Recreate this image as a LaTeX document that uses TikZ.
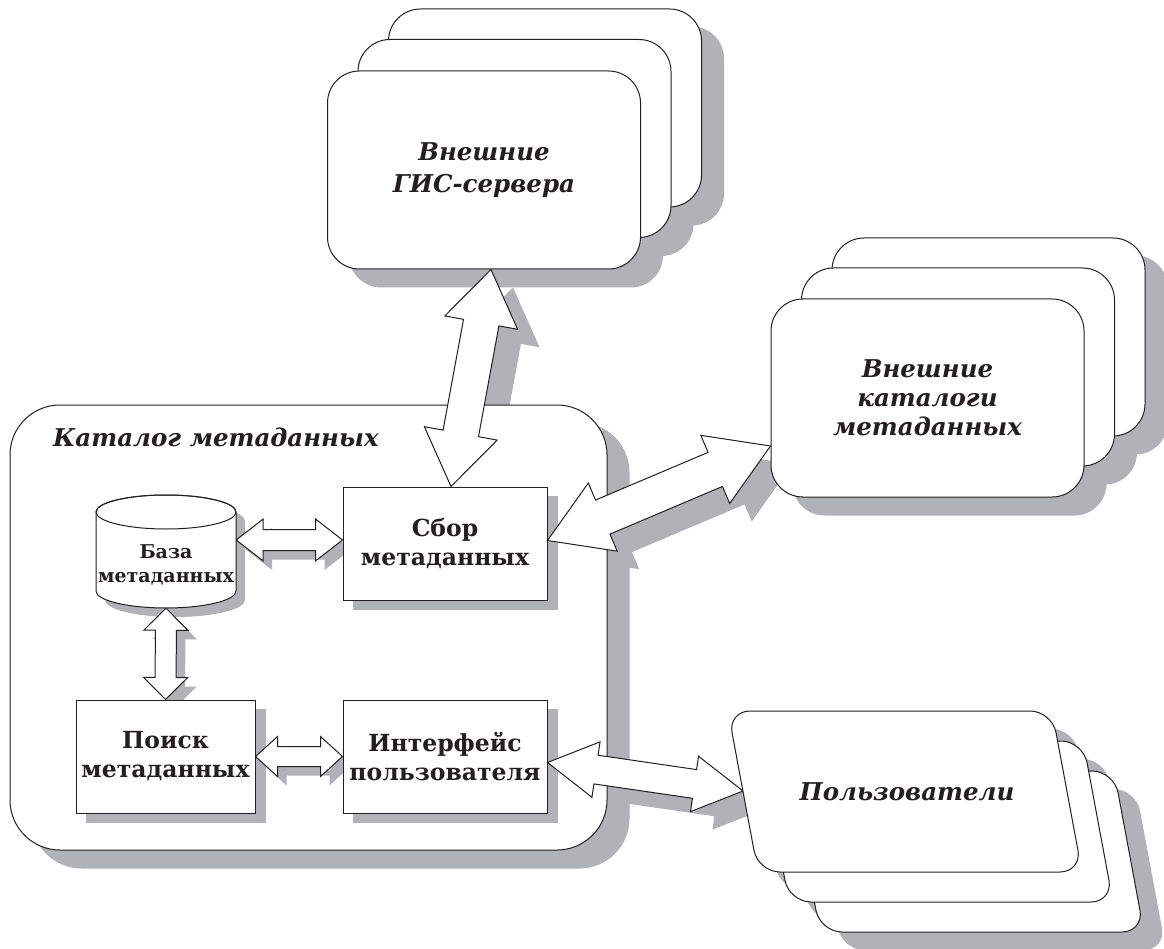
\documentclass[tikz,border=0pt]{standalone}
\usepackage{fontspec}
\setmainfont{DejaVu Serif}
\usetikzlibrary{calc}
\definecolor{shd}{RGB}{177,178,182}
\definecolor{ink}{RGB}{35,31,32}
\pgfdeclarelayer{shadowA}
\pgfdeclarelayer{catlayer}
\pgfdeclarelayer{shadowB}
\pgfdeclarelayer{toplayer}
\pgfsetlayers{shadowA,catlayer,shadowB,main,toplayer}
\newcommand{\itfnt}{\fontsize{24.5}{32}\selectfont\bfseries\itshape}
\newcommand{\itfntb}{\fontsize{24.5}{29}\selectfont\bfseries\itshape}
\newcommand{\bffnt}{\fontsize{23.5}{29}\selectfont\bfseries}
\newcommand{\smfnt}{\fontsize{19}{24}\selectfont\bfseries}
\newcommand{\blockarrow}[6][]{%
  \coordinate (ba1) at ($(#2)!#4!(#3)$);
  \coordinate (ba2) at ($(#3)!#4!(#2)$);
  \path[#1] (#2) -- ($(ba1)!#5!90:(#3)$) -- ($(ba1)!#6!90:(#3)$) -- ($(ba2)!#6!-90:(#2)$) -- ($(ba2)!#5!-90:(#2)$) -- (#3) -- ($(ba2)!#5!90:(#2)$) -- ($(ba2)!#6!90:(#2)$) -- ($(ba1)!#6!-90:(#3)$) -- ($(ba1)!#5!-90:(#3)$) -- cycle;}
\newcommand{\boxshadow}[4]{\fill[shd, rounded corners=#2] ($(#1.south west)+(#3,#4)$) rectangle ($(#1.north east)+(#3,#4)$);}
\newcommand{\userpath}{(728,711) -- (1052,711) -- (1082,872) -- (758,872) -- cycle}
\newcommand{\cylpath}{(96,512) -- (96,591) arc[start angle=180, end angle=360, x radius=70pt, y radius=17pt] -- (236,512) arc[start angle=0, end angle=180, x radius=70pt, y radius=17pt] -- cycle}
\begin{document}
\begin{tikzpicture}[x=1pt,y=-1pt,
  stackbox/.style={draw=ink, fill=white, line width=1pt, rounded corners=32pt, minimum width=313pt, minimum height=198pt, inner sep=0pt, align=center, font=\itfnt, text=ink},
  ibox/.style={draw=ink, fill=white, line width=1pt, minimum height=113pt, inner sep=0pt, align=center, font=\bffnt, text=ink},
  arr/.style={draw=ink, fill=white, line width=1pt, line join=miter},
  bigshad/.style={fill=shd, draw=none, transform canvas={shift={(22pt,-18pt)}}},
  smallshad/.style={fill=shd, draw=none, transform canvas={shift={(9pt,-9pt)}}},
  userbox/.style={draw=ink, fill=white, line width=1pt, rounded corners=22pt}]
\useasboundingbox (0,0) rectangle (1164,949);
% ---------- external stacks (top layer)
\begin{pgfonlayer}{toplayer}
\node[stackbox] (gis3) at (545,108) {};
\node[stackbox] (gis2) at (514.5,138.5) {};
\node[stackbox] (gis) at (484,170) {Внешние\\ГИС-сервера};
\node[stackbox] (cat3) at (988.5,337) {};
\node[stackbox] (cat2) at (958,367) {};
\node[stackbox, font=\itfntb] (cat) at (927.5,398) {Внешние\\каталоги\\метаданных};
\foreach \ox/\oy in {62/60,31/30,0/0}
  \draw[userbox, shift={(\ox,\oy)}] \userpath;
\node[font=\itfnt, text=ink] (usrtext) at (907,792) {Пользователи};
\coordinate (usr) at (743,791);
\end{pgfonlayer}
% ---------- catalog container
\begin{pgfonlayer}{catlayer}
\node[draw=ink, fill=white, line width=1pt, rounded corners=50pt, minimum width=597pt, minimum height=445pt, inner sep=0pt] (catalog) at (308.5,627.5) {};
\node[font=\itfnt, text=ink, anchor=west, inner sep=0pt] (catlabel) at (53,437) {Каталог метаданных};
\end{pgfonlayer}
% ---------- inner boxes
\node[ibox, minimum width=204pt] (sbor) at (445,543.5) {Сбор\\метаданных};
\node[ibox, minimum width=179pt] (poisk) at (165.5,756.5) {Поиск\\метаданных};
\node[ibox, minimum width=204pt] (intf) at (445,756.5) {Интерфейс\\пользователя};
\node[minimum width=140pt, minimum height=113pt, inner sep=0pt] (db) at (166,551.5) {};
\filldraw[draw=ink, fill=white, line width=1pt] \cylpath;
\draw[ink, line width=1pt] (166,512) ellipse[x radius=70pt, y radius=17pt];
\node[font=\smfnt, text=ink, align=center] (dbtext) at (166,565) {База\\метаданных};
% ---------- arrows
\coordinate (a1s) at ($(db.east)+(0,-11.5)$);
\coordinate (a1e) at ($(sbor.west)+(0,-3.5)$);
\coordinate (g1) at ($(sbor.north)+(6,0)$);
\coordinate (g2) at ($(gis.south)+(7,0)$);
\coordinate (c1) at ($(sbor.east)+(0,-3)$);
\coordinate (c2) at ($(cat.west)+(0,48)$);
\coordinate (u1) at ($(intf.east)+(0,6)$);
\blockarrow[arr]{a1s}{a1e}{27pt}{21pt}{10.5pt}
\blockarrow[arr]{db.south}{poisk.north}{22pt}{22pt}{10.5pt}
\blockarrow[arr]{poisk.east}{intf.west}{22pt}{20pt}{10pt}
\blockarrow[arr]{g1}{g2}{54pt}{37pt}{18pt}
\blockarrow[arr]{c1}{c2}{60pt}{37pt}{18.5pt}
\blockarrow[arr]{u1}{usr}{49pt}{28pt}{14.5pt}
% ---------- shadows
\begin{pgfonlayer}{shadowA}
\fill[white] (0,0) rectangle (1164,949);
\foreach \n in {gis3,gis2,gis,cat3,cat2,cat} {\boxshadow{\n}{32pt}{22}{18}}
\foreach \ox/\oy in {62/60,31/30,0/0}
  \fill[shd, rounded corners=22pt, shift={(\ox+22,\oy+18)}] \userpath;
\boxshadow{catalog}{50pt}{22}{18}
\blockarrow[bigshad]{g1}{g2}{54pt}{37pt}{18pt}
\blockarrow[bigshad]{c1}{c2}{60pt}{37pt}{18.5pt}
\blockarrow[bigshad]{u1}{usr}{49pt}{28pt}{14.5pt}
\end{pgfonlayer}
\begin{pgfonlayer}{shadowB}
\boxshadow{sbor}{0pt}{10}{9}
\boxshadow{poisk}{0pt}{10}{9}
\boxshadow{intf}{0pt}{10}{9}
\fill[shd, shift={(9,9)}] \cylpath;
\blockarrow[smallshad]{a1s}{a1e}{27pt}{21pt}{10.5pt}
\blockarrow[smallshad]{db.south}{poisk.north}{22pt}{22pt}{10.5pt}
\blockarrow[smallshad]{poisk.east}{intf.west}{22pt}{20pt}{10pt}
\end{pgfonlayer}
\end{tikzpicture}
\end{document}
